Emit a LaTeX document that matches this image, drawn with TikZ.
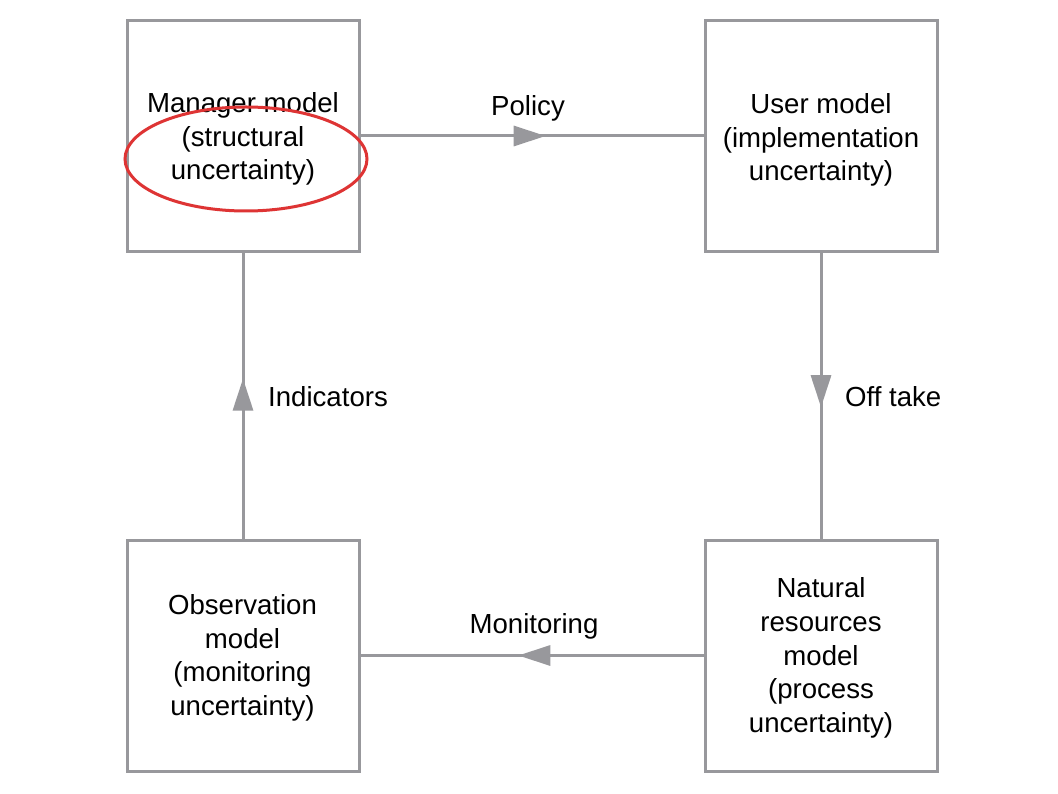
\documentclass[tikz,border=0pt]{standalone}
\usepackage{fontspec}
\setmainfont{Liberation Sans}
\usetikzlibrary{arrows.meta,decorations.markings,shapes.geometric}
\definecolor{linegray}{RGB}{152,152,156}
\definecolor{ovalred}{RGB}{222,52,52}
\tikzset{
  x=1pt,y=-1pt,
  modelbox/.style={draw=linegray,line width=3pt,minimum width=232pt,minimum height=231pt,inner sep=0pt},
  boxtext/.style={align=center,inner sep=0pt,font=\fontsize{27.6}{33.7}\selectfont},
  flow/.style={draw=linegray,line width=3pt,postaction={decorate},
    decoration={markings,mark=at position #1 with {\arrow{Triangle[length=32pt,width=20pt]}}}},
  flow/.default=0.54,
  lbl/.style={font=\fontsize{27.6}{30}\selectfont,inner sep=0pt},
}
\begin{document}
\begin{tikzpicture}
\useasboundingbox (0,0) rectangle (1058,794);
\fill[white] (0,0) rectangle (1058,794);
\node[modelbox] (man) at (243,136) {};
\node[modelbox] (usr) at (821,136) {};
\node[modelbox] (obs) at (243,655.5) {};
\node[modelbox] (nat) at (821,655.5) {};
\node[boxtext] (manT) at (243,139) {Manager model\\(structural\\uncertainty)};
\node[boxtext] (usrT) at (821,140) {User model\\(implementation\\uncertainty)};
\node[boxtext] (obsT) at (242.5,658) {Observation\\model\\(monitoring\\uncertainty)};
\node[boxtext] (natT) at (821,658) {Natural\\resources\\model\\(process\\uncertainty)};
\draw[flow,linegray] (man.east) -- (usr.west);
\draw[flow,linegray] (usr.south) -- (nat.north);
\draw[flow,linegray] (nat.west) -- (obs.east);
\draw[flow=0.56,linegray] (obs.north) -- (man.south);
\node[lbl] (pol) at (528,108) {Policy};
\node[lbl,anchor=west] (off) at (845,397) {Off take};
\node[lbl,anchor=west] (ind) at (268,397) {Indicators};
\node[lbl] (mon) at (534,626) {Monitoring};
\node[draw=ovalred,line width=3pt,ellipse,minimum width=242pt,minimum height=104pt,inner sep=0pt] (oval) at (246,159) {};
\end{tikzpicture}
\end{document}
